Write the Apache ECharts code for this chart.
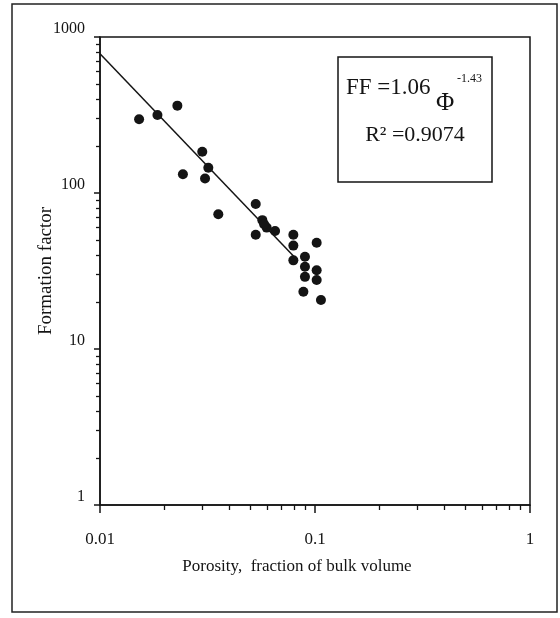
<!DOCTYPE html>
<html lang="en">

<head>
    <title>Formation factor vs porosity</title>
    <meta charset="UTF-8">
    <style type="text/css">
        html,
        body {
            margin: 0px;
            width: 100%;
            height: 100%;
            background: #fff;
        }
    </style>
    <script type="text/javascript" src="https://cdn.jsdelivr.net/npm/echarts@6/dist/echarts.min.js"></script>
</head>

<body>
    <div id="chart" style="width: 560px; height: 618px;"></div>
</body>

<script type="text/javascript">
    // porosity (fraction) and formation factor
    var porosity = [0.0152, 0.0185, 0.0229, 0.0299, 0.0243, 0.0319, 0.0308, 0.0355,
        0.053, 0.0569, 0.053, 0.0596, 0.0652, 0.058,
        0.0793, 0.0793, 0.0793, 0.0898, 0.0898, 0.0898,
        0.1018, 0.1018, 0.1018, 0.0883, 0.1066];
    var formationFactor = [297, 316, 363, 184, 132, 145, 124, 73,
        85, 67, 54, 60, 57, 63,
        54, 46, 37, 39, 33.7, 29,
        48, 32, 27.7, 23.3, 20.6];

    // power-law fit line, ends
    var fitPorosity = [0.01, 0.08];
    var fitFF = [780, 39];

    var xMajor = [0.01, 0.1, 1];
    var xMinor = [0.02, 0.03, 0.04, 0.05, 0.06, 0.07, 0.08, 0.09,
        0.2, 0.3, 0.4, 0.5, 0.6, 0.7, 0.8, 0.9];
    var yMajor = [1, 10, 100, 1000];
    var yMinor = [2, 3, 4, 5, 6, 7, 8, 9, 20, 30, 40, 50, 60, 70, 80, 90,
        200, 300, 400, 500, 600, 700, 800, 900];

    var serif = "'Liberation Serif', 'Times New Roman', serif";
    var ink = '#141414';

    function draw() {
        var points = porosity.map(function (p, i) { return [p, formationFactor[i]]; });
        var fit = fitPorosity.map(function (p, i) { return [p, fitFF[i]]; });

        var plotBox = { left: 100, right: 30, top: 37, bottom: 113 };

        var container = document.getElementById("chart");
        var options = {
            backgroundColor: '#fff',
            animation: false,
            grid: [
                Object.assign({ show: true, borderColor: ink, borderWidth: 1.5 }, plotBox),
                // second grid on the same box, only for the minor ticks
                Object.assign({ show: false }, plotBox)
            ],
            xAxis: [
                {
                    type: 'log',
                    gridIndex: 0,
                    logBase: 10,
                    min: 0.01,
                    max: 1,
                    name: 'Porosity,  fraction of bulk volume',
                    nameLocation: 'middle',
                    nameGap: 53,
                    nameTextStyle: { fontFamily: serif, fontSize: 17, color: ink, padding: [0, 36, 0, 0] },
                    axisLine: { lineStyle: { color: ink, width: 1.5 } },
                    axisTick: { customValues: xMajor, length: 8, lineStyle: { color: ink, width: 1.5 } },
                    axisLabel: {
                        customValues: xMajor,
                        margin: 26,
                        fontFamily: serif, fontSize: 17, color: ink,
                        formatter: function (v) { return String(v); }
                    },
                    splitLine: { show: false }
                },
                {
                    type: 'log',
                    gridIndex: 1,
                    logBase: 10,
                    min: 0.01,
                    max: 1,
                    position: 'bottom',
                    axisLine: { show: false, onZero: false },
                    axisTick: { customValues: xMinor, length: 5, inside: false, lineStyle: { color: ink, width: 1.3 } },
                    axisLabel: { show: false },
                    splitLine: { show: false }
                }
            ],
            yAxis: [
                {
                    type: 'log',
                    gridIndex: 0,
                    logBase: 10,
                    min: 1,
                    max: 1000,
                    name: 'Formation factor',
                    nameLocation: 'middle',
                    nameGap: 44,
                    nameMoveOverlap: false,
                    nameTextStyle: { fontFamily: serif, fontSize: 19, color: ink },
                    axisLine: { lineStyle: { color: ink, width: 1.5 } },
                    axisTick: { customValues: yMajor, length: 6, lineStyle: { color: ink, width: 1.5 } },
                    axisLabel: {
                        customValues: yMajor,
                        margin: 15,
                        verticalAlign: 'bottom',
                        fontFamily: serif, fontSize: 16, color: ink,
                        formatter: function (v) { return String(v); }
                    },
                    splitLine: { show: false }
                },
                {
                    type: 'log',
                    gridIndex: 1,
                    logBase: 10,
                    min: 1,
                    max: 1000,
                    position: 'left',
                    axisLine: { show: false, onZero: false },
                    axisTick: { customValues: yMinor, length: 4, lineStyle: { color: ink, width: 1.3 } },
                    axisLabel: { show: false },
                    splitLine: { show: false }
                }
            ],
            series: [
                {
                    type: 'line',
                    data: fit,
                    symbol: 'none',
                    lineStyle: { color: ink, width: 1.5 },
                    z: 3
                },
                {
                    type: 'scatter',
                    data: points,
                    symbol: 'circle',
                    symbolSize: 10,
                    itemStyle: { color: ink, opacity: 1 },
                    z: 4
                }
            ],
            graphic: [
                {
                    type: 'rect',
                    shape: { x: 12, y: 4, width: 545, height: 608 },
                    style: { fill: 'none', stroke: '#222', lineWidth: 1.5 }
                },
                {
                    type: 'rect',
                    shape: { x: 338, y: 57, width: 154, height: 125 },
                    style: { fill: '#fff', stroke: ink, lineWidth: 1.5 },
                    z: 10
                },
                {
                    type: 'text',
                    x: 346, y: 88,
                    style: { text: 'FF =1.06', font: '23px ' + serif, fill: ink, verticalAlign: 'middle' },
                    z: 11
                },
                {
                    type: 'text',
                    x: 436, y: 103,
                    style: { text: '\u03A6', font: '25px ' + serif, fill: ink, verticalAlign: 'middle' },
                    z: 11
                },
                {
                    type: 'text',
                    x: 457, y: 79,
                    style: { text: '-1.43', font: '12px ' + serif, fill: ink, verticalAlign: 'middle' },
                    z: 11
                },
                {
                    type: 'text',
                    x: 415, y: 135,
                    style: { text: 'R\u00B2 =0.9074', font: '22px ' + serif, fill: ink, align: 'center', verticalAlign: 'middle' },
                    z: 11
                }
            ]
        };
        var chart = echarts.init(container, null, { renderer: 'canvas' });
        chart.setOption(options);
    }
    draw();
</script>

</html>
